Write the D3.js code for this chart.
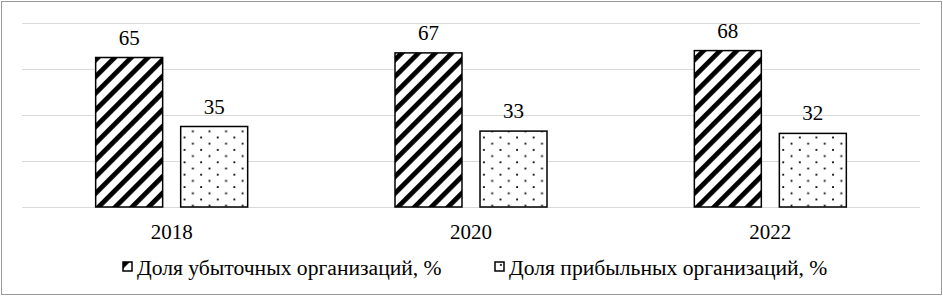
<!DOCTYPE html>
<html>
<head>
<meta charset="utf-8">
<script src="https://cdn.jsdelivr.net/npm/d3@7"></script>
<style>
  body { margin: 0; background: #fff; }
</style>
</head>
<body>
<div id="chart"></div>
<script>
// data
const years = ['2018', '2020', '2022'];
const lossShare = [65, 67, 68];
const profitShare = [35, 33, 32];
const seriesNames = ['Доля убыточных организаций, %', 'Доля прибыльных организаций, %'];
const yTicks = [0, 20, 40, 60, 80];

const width = 943, height = 296;
const margin = { top: 23, bottom: 89, left: 22, right: 23 };
const chartWidth = width - margin.left - margin.right;
const chartHeight = height - margin.top - margin.bottom;
const serif = '"Liberation Serif", "Times New Roman", serif';

const svg = d3.select('#chart').append('svg').attr('width', width).attr('height', height)
  .attr('font-family', serif);

// outer frame
svg.append('rect')
  .attr('x', 1.5).attr('y', 1.5)
  .attr('width', width - 3).attr('height', height - 3)
  .attr('fill', '#fff').attr('stroke', '#9a9a9a').attr('stroke-width', 1);

// patterns
const defs = svg.append('defs');
const hp = 11.8;
const hatch = defs.append('pattern')
  .attr('id', 'hatch').attr('patternUnits', 'userSpaceOnUse')
  .attr('width', hp).attr('height', hp)
  .attr('patternTransform', 'rotate(45)');
hatch.append('rect').attr('width', hp).attr('height', hp).attr('fill', '#fff');
hatch.append('rect').attr('x', 0).attr('width', 4.8).attr('height', hp).attr('fill', '#000');

// staggered dots
const dw = 16.6, dh = 12.4;
const dots = defs.append('pattern')
  .attr('id', 'dots').attr('patternUnits', 'userSpaceOnUse')
  .attr('width', dw).attr('height', dh);
dots.append('rect').attr('width', dw).attr('height', dh).attr('fill', '#fff');
dots.append('rect').attr('x', 5).attr('y', 2).attr('width', 1.8).attr('height', 1.8).attr('fill', '#000');
dots.append('rect').attr('x', 5 + dw / 2).attr('y', 2 + dh / 2).attr('width', 1.8).attr('height', 1.8).attr('fill', '#000');

const fills = ['url(#hatch)', 'url(#dots)'];

// scales
const groupWidth = 152;
const x0 = d3.scaleBand().domain(years).range([0, chartWidth]);
const x1 = d3.scaleBand().domain([0, 1]).range([0, groupWidth]).paddingInner(0.212);
const y = d3.scaleLinear().domain([0, 80]).range([chartHeight, 0]);

const g = svg.append('g').attr('transform', `translate(${margin.left},${margin.top})`);

// grid lines
g.selectAll('line.grid').data(yTicks).enter().append('line')
  .attr('class', 'grid')
  .attr('x1', 0).attr('x2', chartWidth)
  .attr('y1', d => Math.round(y(d)) + 0.5).attr('y2', d => Math.round(y(d)) + 0.5)
  .attr('stroke', '#d9d9d9').attr('stroke-width', 1);

// bars
const rows = years.map((yr, i) => ({ year: yr, values: [lossShare[i], profitShare[i]] }));
const groups = g.selectAll('g.grp').data(rows).enter().append('g')
  .attr('class', 'grp')
  .attr('transform', d => `translate(${x0(d.year) + (x0.bandwidth() - groupWidth) / 2},0)`);

groups.selectAll('rect').data(d => d.values).enter().append('rect')
  .attr('x', (d, i) => x1(i))
  .attr('y', d => y(d))
  .attr('width', x1.bandwidth())
  .attr('height', d => chartHeight - y(d))
  .attr('fill', (d, i) => fills[i])
  .attr('stroke', '#000').attr('stroke-width', 1.5);

groups.selectAll('text.val').data(d => d.values).enter().append('text')
  .attr('class', 'val')
  .attr('x', (d, i) => x1(i) + x1.bandwidth() / 2)
  .attr('y', d => y(d) - 13)
  .attr('text-anchor', 'middle')
  .attr('font-size', 21)
  .text(d => d);

// category axis labels
g.selectAll('text.cat').data(years).enter().append('text')
  .attr('class', 'cat')
  .attr('x', d => x0(d) + x0.bandwidth() / 2)
  .attr('y', chartHeight + 32)
  .attr('text-anchor', 'middle')
  .attr('font-size', 21)
  .text(d => d);

// legend
const legendX = [123, 495];
const legend = svg.selectAll('g.legend').data(seriesNames).enter().append('g')
  .attr('class', 'legend')
  .attr('transform', (d, i) => `translate(${legendX[i]},262)`);
legend.append('rect')
  .attr('x', 0).attr('y', 0).attr('width', 9).attr('height', 9)
  .attr('fill', (d, i) => fills[i])
  .attr('stroke', '#000').attr('stroke-width', 1.5);
legend.append('text')
  .attr('x', 14).attr('y', 13)
  .attr('font-size', 21.6)
  .text(d => d);
</script>
</body>
</html>
